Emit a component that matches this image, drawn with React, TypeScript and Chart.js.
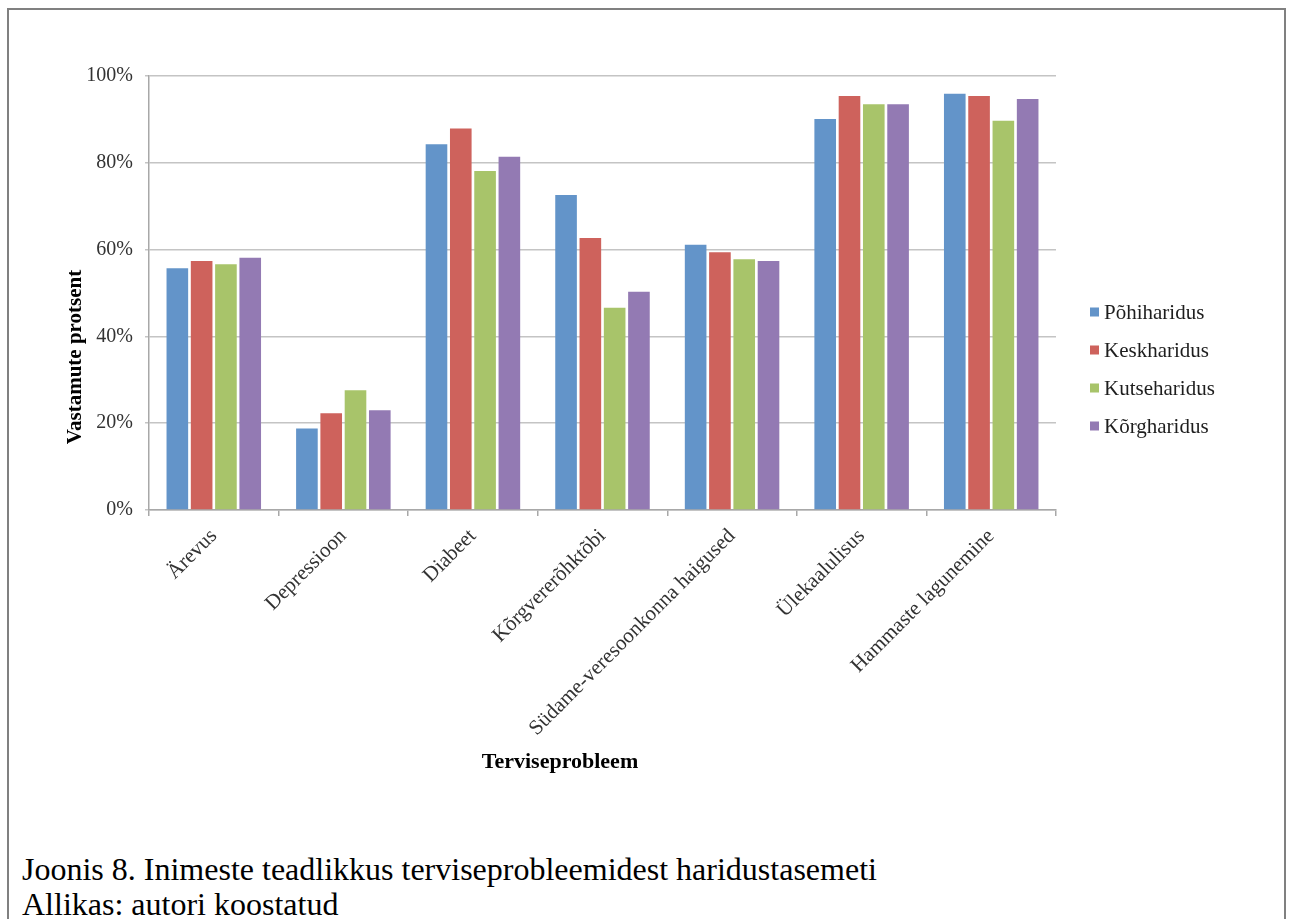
import { useEffect, useRef } from 'react';
import { Chart, registerables } from 'chart.js';

Chart.register(...registerables);

// Health problems on the category axis
const categories = [
  'Ärevus',
  'Depressioon',
  'Diabeet',
  'Kõrgvererõhktõbi',
  'Südame-veresoonkonna haigused',
  'Ülekaalulisus',
  'Hammaste lagunemine',
];

// Education levels (series names)
const seriesNames = ['Põhiharidus', 'Keskharidus', 'Kutseharidus', 'Kõrgharidus'];

// Share of respondents aware of each problem, %
const pohiharidus = [55.7, 18.8, 84.3, 72.6, 61.1, 90.1, 95.9];
const keskharidus = [57.4, 22.3, 87.9, 62.7, 59.4, 95.4, 95.4];
const kutseharidus = [56.6, 27.6, 78.1, 46.6, 57.8, 93.5, 89.7];
const korgharidus = [58.1, 23.0, 81.4, 50.3, 57.4, 93.5, 94.7];

const seriesColors = ['#6394C9', '#CE625C', '#A8C46A', '#937AB3'];

// Value axis
const yMin = 0;
const yMax = 100;
const yStep = 20;

const xTitle = 'Terviseprobleem';
const yTitle = 'Vastamute protsent';
const captionLines = [
  'Joonis 8. Inimeste teadlikkus terviseprobleemidest haridustasemeti',
  'Allikas: autori koostatud',
];

const SERIF = '"Liberation Serif", "Times New Roman", serif';

// Legend and axis titles drawn on the canvas after the bars
const chromePlugin = {
  id: 'chrome',
  afterDraw(chart: any) {
    const ctx: CanvasRenderingContext2D = chart.ctx;
    ctx.save();

    // legend
    chart.data.datasets.forEach((ds: any, i: number) => {
      const yc = 312 + i * 38;
      ctx.fillStyle = ds.backgroundColor;
      ctx.fillRect(1090, yc - 4.5, 9, 9);
      ctx.fillStyle = '#1e1e1e';
      ctx.font = `21px ${SERIF}`;
      ctx.textAlign = 'left';
      ctx.textBaseline = 'middle';
      ctx.fillText(ds.label, 1104, yc + 1);
    });

    // x axis title
    ctx.fillStyle = '#000';
    ctx.font = `bold 22px ${SERIF}`;
    ctx.textAlign = 'center';
    ctx.textBaseline = 'alphabetic';
    ctx.fillText(xTitle, 560, 768);

    // y axis title
    ctx.save();
    ctx.translate(81, 357);
    ctx.rotate(-Math.PI / 2);
    ctx.font = `bold 21px ${SERIF}`;
    ctx.textAlign = 'center';
    ctx.textBaseline = 'alphabetic';
    ctx.fillText(yTitle, 0, 0);
    ctx.restore();

    ctx.restore();
  },
};

function BarChart() {
  const canvasRef = useRef<HTMLCanvasElement | null>(null);

  useEffect(() => {
    const canvas = canvasRef.current;
    if (!canvas) return;
    const values = [pohiharidus, keskharidus, kutseharidus, korgharidus];
    const chart = new Chart(canvas, {
      type: 'bar',
      data: {
        labels: categories,
        datasets: seriesNames.map((name, i) => ({
          label: name,
          data: values[i],
          backgroundColor: seriesColors[i],
          borderWidth: 0,
          categoryPercentage: 0.75,
          barPercentage: 0.89,
        })),
      },
      options: {
        responsive: false,
        animation: false,
        devicePixelRatio: 1,
        layout: { padding: { left: 0, top: 76, right: 234, bottom: 0 } },
        plugins: {
          legend: { display: false },
          tooltip: { enabled: false },
        },
        scales: {
          x: {
            afterFit: (scale: any) => {
              scale.height = 290;
            },
            grid: {
              drawOnChartArea: false,
              drawTicks: true,
              tickLength: 6,
              offset: true,
              color: '#a8a8a8',
              lineWidth: 1.5,
            },
            border: { display: true, color: '#a8a8a8', width: 1.5 },
            ticks: {
              autoSkip: false,
              minRotation: 45,
              maxRotation: 45,
              padding: 8,
              color: '#333',
              font: { family: SERIF, size: 21 },
            },
          },
          y: {
            min: yMin,
            max: yMax,
            afterFit: (scale: any) => {
              scale.width = 149;
            },
            grid: {
              color: '#c4c4c4',
              lineWidth: 1.5,
              tickLength: 4,
            },
            border: { display: true, color: '#a8a8a8', width: 1.5 },
            ticks: {
              stepSize: yStep,
              padding: 12,
              color: '#333',
              font: { family: SERIF, size: 20 },
              callback: (v: any) => `${v}%`,
            },
          },
        },
      },
      plugins: [chromePlugin],
    });
    return () => chart.destroy();
  }, []);

  return (
    <canvas
      ref={canvasRef}
      width={1290}
      height={800}
      style={{ position: 'absolute', left: 0, top: 0, width: 1290, height: 800, filter: 'blur(0.5px)' }}
    />
  );
}

export default function App() {
  return (
    <div
      style={{
        position: 'absolute',
        left: 0,
        top: 0,
        width: 1290,
        height: 919,
        overflow: 'hidden',
        background: '#fff',
      }}
    >
      <div
        style={{
          position: 'absolute',
          left: 7,
          top: 8,
          width: 1279,
          height: 911,
          boxSizing: 'border-box',
          border: '2px solid #808080',
          borderBottom: 'none',
        }}
      />
      <BarChart />
      <div
        style={{
          position: 'absolute',
          left: 22,
          top: 852,
          fontFamily: SERIF,
          fontSize: 32,
          lineHeight: '35px',
          color: '#000',
          whiteSpace: 'nowrap',
        }}
      >
        {captionLines.map((line) => (
          <div key={line}>{line}</div>
        ))}
      </div>
    </div>
  );
}
